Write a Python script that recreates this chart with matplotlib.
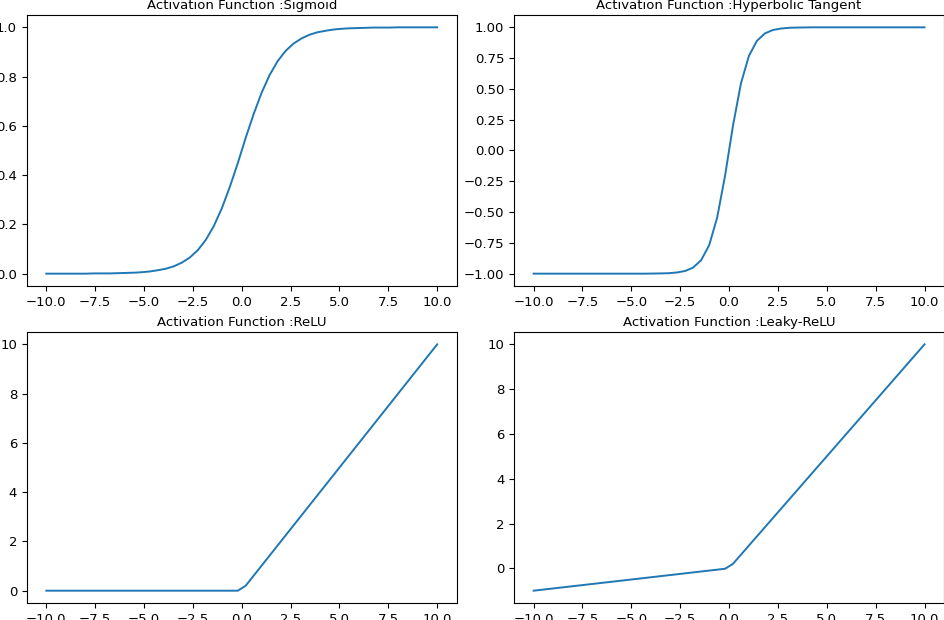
import matplotlib
matplotlib.use("Agg")
import matplotlib.pyplot as plt

# sample points along x (50 points, -10 .. 10)
x = [-10.0, -9.59, -9.18, -8.78, -8.37, -7.96, -7.55, -7.14, -6.73, -6.33,
     -5.92, -5.51, -5.10, -4.69, -4.29, -3.88, -3.47, -3.06, -2.65, -2.24,
     -1.84, -1.43, -1.02, -0.61, -0.20, 0.20, 0.61, 1.02, 1.43, 1.84,
     2.24, 2.65, 3.06, 3.47, 3.88, 4.29, 4.69, 5.10, 5.51, 5.92,
     6.33, 6.73, 7.14, 7.55, 7.96, 8.37, 8.78, 9.18, 9.59, 10.0]

sigmoid = [0.000, 0.000, 0.000, 0.000, 0.000, 0.000, 0.001, 0.001, 0.001, 0.002,
           0.003, 0.004, 0.006, 0.009, 0.014, 0.020, 0.030, 0.045, 0.066, 0.096,
           0.137, 0.193, 0.265, 0.352, 0.449, 0.551, 0.648, 0.735, 0.807, 0.863,
           0.904, 0.934, 0.955, 0.970, 0.980, 0.986, 0.991, 0.994, 0.996, 0.997,
           0.998, 0.999, 0.999, 0.999, 1.000, 1.000, 1.000, 1.000, 1.000, 1.000]

tanh = [-1.000, -1.000, -1.000, -1.000, -1.000, -1.000, -1.000, -1.000, -1.000, -1.000,
        -1.000, -1.000, -1.000, -1.000, -1.000, -0.999, -0.998, -0.996, -0.990, -0.978,
        -0.951, -0.891, -0.770, -0.546, -0.201, 0.201, 0.546, 0.770, 0.891, 0.951,
        0.978, 0.990, 0.996, 0.998, 0.999, 1.000, 1.000, 1.000, 1.000, 1.000,
        1.000, 1.000, 1.000, 1.000, 1.000, 1.000, 1.000, 1.000, 1.000, 1.000]

relu = [0.0, 0.0, 0.0, 0.0, 0.0, 0.0, 0.0, 0.0, 0.0, 0.0,
        0.0, 0.0, 0.0, 0.0, 0.0, 0.0, 0.0, 0.0, 0.0, 0.0,
        0.0, 0.0, 0.0, 0.0, 0.0, 0.20, 0.61, 1.02, 1.43, 1.84,
        2.24, 2.65, 3.06, 3.47, 3.88, 4.29, 4.69, 5.10, 5.51, 5.92,
        6.33, 6.73, 7.14, 7.55, 7.96, 8.37, 8.78, 9.18, 9.59, 10.0]

leaky_relu = [-1.0, -0.959, -0.918, -0.878, -0.837, -0.796, -0.755, -0.714, -0.673, -0.633,
              -0.592, -0.551, -0.510, -0.469, -0.429, -0.388, -0.347, -0.306, -0.265, -0.224,
              -0.184, -0.143, -0.102, -0.061, -0.020, 0.20, 0.61, 1.02, 1.43, 1.84,
              2.24, 2.65, 3.06, 3.47, 3.88, 4.29, 4.69, 5.10, 5.51, 5.92,
              6.33, 6.73, 7.14, 7.55, 7.96, 8.37, 8.78, 9.18, 9.59, 10.0]

titles = ["Activation Function :Sigmoid", "Activation Function :Hyperbolic Tangent",
          "Activation Function :ReLU", "Activation Function :Leaky-ReLU"]
series = [sigmoid, tanh, relu, leaky_relu]


def main():
    plt.rcParams["font.size"] = 9.5
    fig, axes = plt.subplots(2, 2, figsize=(9.45, 6.2), dpi=100)
    fig.subplots_adjust(left=0.0283, right=0.999, top=0.9758, bottom=0.0274,
                        wspace=0.1333, hspace=0.17)
    for ax, y, title in zip(axes.flat, series, titles):
        ax.plot(x, y, color="#1f77b4", linewidth=1.4)
        ax.set_title(title, fontsize=9.5, pad=4)
        ax.set_xticks([-10.0, -7.5, -5.0, -2.5, 0.0, 2.5, 5.0, 7.5, 10.0])
        ax.tick_params(labelsize=9.5)
    fig.savefig("out.png", dpi=100)


if __name__ == "__main__":
    main()
